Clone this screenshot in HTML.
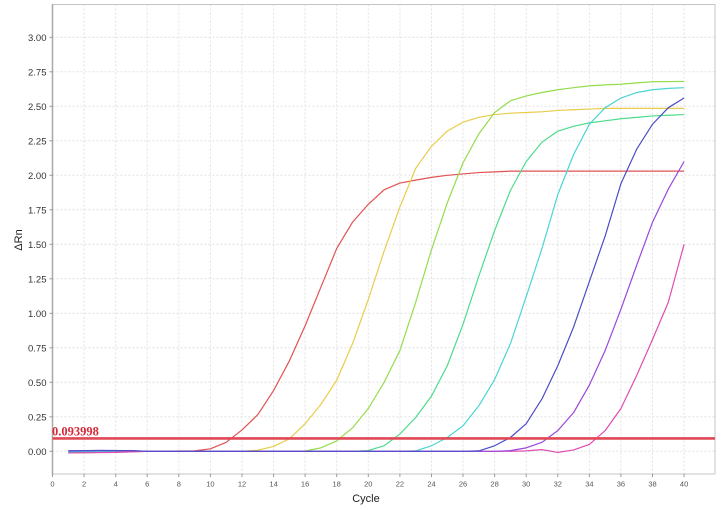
<!DOCTYPE html>
<html>
<head>
<meta charset="utf-8">
<style>
  html,body{margin:0;padding:0;background:#fff;}
  body{width:723px;height:510px;overflow:hidden;}
  svg{display:block;}
  .yt{font-family:"Liberation Sans",sans-serif;font-size:9.5px;fill:#333;text-anchor:end;}
  .xt{font-family:"Liberation Sans",sans-serif;font-size:7.5px;fill:#555;text-anchor:middle;}
  .ax{font-family:"Liberation Sans",sans-serif;font-size:11px;fill:#222;}
  .c{fill:none;stroke-width:1.2;vector-effect:non-scaling-stroke;stroke-linejoin:round;}
</style>
</head>
<body>
<svg width="723" height="510" viewBox="0 0 723 510" xmlns="http://www.w3.org/2000/svg">
  <rect x="0" y="0" width="723" height="510" fill="#fff"/>
  <!-- grid -->
  <g stroke="#e2e2e2" stroke-width="1" stroke-dasharray="2,2">
    <line x1="84.1" y1="4.5" x2="84.1" y2="474"/>
    <line x1="115.7" y1="4.5" x2="115.7" y2="474"/>
    <line x1="147.2" y1="4.5" x2="147.2" y2="474"/>
    <line x1="178.8" y1="4.5" x2="178.8" y2="474"/>
    <line x1="210.4" y1="4.5" x2="210.4" y2="474"/>
    <line x1="242.0" y1="4.5" x2="242.0" y2="474"/>
    <line x1="273.6" y1="4.5" x2="273.6" y2="474"/>
    <line x1="305.1" y1="4.5" x2="305.1" y2="474"/>
    <line x1="336.7" y1="4.5" x2="336.7" y2="474"/>
    <line x1="368.3" y1="4.5" x2="368.3" y2="474"/>
    <line x1="399.9" y1="4.5" x2="399.9" y2="474"/>
    <line x1="431.5" y1="4.5" x2="431.5" y2="474"/>
    <line x1="463.0" y1="4.5" x2="463.0" y2="474"/>
    <line x1="494.6" y1="4.5" x2="494.6" y2="474"/>
    <line x1="526.2" y1="4.5" x2="526.2" y2="474"/>
    <line x1="557.8" y1="4.5" x2="557.8" y2="474"/>
    <line x1="589.4" y1="4.5" x2="589.4" y2="474"/>
    <line x1="620.9" y1="4.5" x2="620.9" y2="474"/>
    <line x1="652.5" y1="4.5" x2="652.5" y2="474"/>
    <line x1="684.1" y1="4.5" x2="684.1" y2="474"/>
    <line x1="52.5" y1="451.3" x2="715" y2="451.3"/>
    <line x1="52.5" y1="416.8" x2="715" y2="416.8"/>
    <line x1="52.5" y1="382.3" x2="715" y2="382.3"/>
    <line x1="52.5" y1="347.8" x2="715" y2="347.8"/>
    <line x1="52.5" y1="313.3" x2="715" y2="313.3"/>
    <line x1="52.5" y1="278.8" x2="715" y2="278.8"/>
    <line x1="52.5" y1="244.3" x2="715" y2="244.3"/>
    <line x1="52.5" y1="209.8" x2="715" y2="209.8"/>
    <line x1="52.5" y1="175.3" x2="715" y2="175.3"/>
    <line x1="52.5" y1="140.8" x2="715" y2="140.8"/>
    <line x1="52.5" y1="106.3" x2="715" y2="106.3"/>
    <line x1="52.5" y1="71.8" x2="715" y2="71.8"/>
    <line x1="52.5" y1="37.3" x2="715" y2="37.3"/>
  </g>
  <!-- frame -->
  <line x1="52.5" y1="4.5" x2="715" y2="4.5" stroke="#c4c4c4" stroke-width="1"/>
  <line x1="715" y1="4.5" x2="715" y2="474" stroke="#c4c4c4" stroke-width="1"/>
  <line x1="52.5" y1="474" x2="715" y2="474" stroke="#c4c4c4" stroke-width="1"/>
  <line x1="52.5" y1="4" x2="52.5" y2="474.5" stroke="#a8a8a8" stroke-width="1.5"/>
  <!-- y ticks -->
  <g stroke="#999" stroke-width="1">
    <line x1="49.5" y1="451.3" x2="52.5" y2="451.3"/>
    <line x1="49.5" y1="416.8" x2="52.5" y2="416.8"/>
    <line x1="49.5" y1="382.3" x2="52.5" y2="382.3"/>
    <line x1="49.5" y1="347.8" x2="52.5" y2="347.8"/>
    <line x1="49.5" y1="313.3" x2="52.5" y2="313.3"/>
    <line x1="49.5" y1="278.8" x2="52.5" y2="278.8"/>
    <line x1="49.5" y1="244.3" x2="52.5" y2="244.3"/>
    <line x1="49.5" y1="209.8" x2="52.5" y2="209.8"/>
    <line x1="49.5" y1="175.3" x2="52.5" y2="175.3"/>
    <line x1="49.5" y1="140.8" x2="52.5" y2="140.8"/>
    <line x1="49.5" y1="106.3" x2="52.5" y2="106.3"/>
    <line x1="49.5" y1="71.8" x2="52.5" y2="71.8"/>
    <line x1="49.5" y1="37.3" x2="52.5" y2="37.3"/>
  </g>
  <g class="yt">
    <text x="46.5" y="454.8">0.00</text>
    <text x="46.5" y="420.3">0.25</text>
    <text x="46.5" y="385.8">0.50</text>
    <text x="46.5" y="351.3">0.75</text>
    <text x="46.5" y="316.8">1.00</text>
    <text x="46.5" y="282.3">1.25</text>
    <text x="46.5" y="247.8">1.50</text>
    <text x="46.5" y="213.3">1.75</text>
    <text x="46.5" y="178.8">2.00</text>
    <text x="46.5" y="144.3">2.25</text>
    <text x="46.5" y="109.8">2.50</text>
    <text x="46.5" y="75.3">2.75</text>
    <text x="46.5" y="40.8">3.00</text>
  </g>
  <!-- x ticks -->
  <g stroke="#999" stroke-width="1">
    <line x1="52.5" y1="474" x2="52.5" y2="477"/>
    <line x1="84.1" y1="474" x2="84.1" y2="477"/>
    <line x1="115.7" y1="474" x2="115.7" y2="477"/>
    <line x1="147.2" y1="474" x2="147.2" y2="477"/>
    <line x1="178.8" y1="474" x2="178.8" y2="477"/>
    <line x1="210.4" y1="474" x2="210.4" y2="477"/>
    <line x1="242.0" y1="474" x2="242.0" y2="477"/>
    <line x1="273.6" y1="474" x2="273.6" y2="477"/>
    <line x1="305.1" y1="474" x2="305.1" y2="477"/>
    <line x1="336.7" y1="474" x2="336.7" y2="477"/>
    <line x1="368.3" y1="474" x2="368.3" y2="477"/>
    <line x1="399.9" y1="474" x2="399.9" y2="477"/>
    <line x1="431.5" y1="474" x2="431.5" y2="477"/>
    <line x1="463.0" y1="474" x2="463.0" y2="477"/>
    <line x1="494.6" y1="474" x2="494.6" y2="477"/>
    <line x1="526.2" y1="474" x2="526.2" y2="477"/>
    <line x1="557.8" y1="474" x2="557.8" y2="477"/>
    <line x1="589.4" y1="474" x2="589.4" y2="477"/>
    <line x1="620.9" y1="474" x2="620.9" y2="477"/>
    <line x1="652.5" y1="474" x2="652.5" y2="477"/>
    <line x1="684.1" y1="474" x2="684.1" y2="477"/>
  </g>
  <g class="xt">
    <text x="52.5" y="486.5">0</text>
    <text x="84.1" y="486.5">2</text>
    <text x="115.7" y="486.5">4</text>
    <text x="147.2" y="486.5">6</text>
    <text x="178.8" y="486.5">8</text>
    <text x="210.4" y="486.5">10</text>
    <text x="242.0" y="486.5">12</text>
    <text x="273.6" y="486.5">14</text>
    <text x="305.1" y="486.5">16</text>
    <text x="336.7" y="486.5">18</text>
    <text x="368.3" y="486.5">20</text>
    <text x="399.9" y="486.5">22</text>
    <text x="431.5" y="486.5">24</text>
    <text x="463.0" y="486.5">26</text>
    <text x="494.6" y="486.5">28</text>
    <text x="526.2" y="486.5">30</text>
    <text x="557.8" y="486.5">32</text>
    <text x="589.4" y="486.5">34</text>
    <text x="620.9" y="486.5">36</text>
    <text x="652.5" y="486.5">38</text>
    <text x="684.1" y="486.5">40</text>
  </g>
  <text class="ax" x="366" y="502" text-anchor="middle">Cycle</text>
  <text class="ax" x="0" y="0" font-size="10.5" text-anchor="middle" transform="translate(22,240) rotate(-90)">ΔRn</text>

  <!-- curves in data coordinates -->
  <g transform="translate(52.5,451.3) scale(15.79,-138)">
    <polyline class="c" stroke="#e05252" points="1,-0.012 3,-0.008 6,0 9,0.003 10,0.018 11,0.065 12,0.155 13,0.265 14,0.44 15,0.655 16,0.91 17,1.19 18,1.47 19,1.66 20,1.79 21,1.895 22,1.944 23,1.965 24,1.985 25,2.0 26,2.01 27,2.02 28,2.025 29,2.03 40,2.03"/>
    <polyline class="c" stroke="#e8cc4c" points="1,-0.01 4,-0.006 6,0 12,0 13,0.008 14,0.035 15,0.09 16,0.2 17,0.34 18,0.515 19,0.78 20,1.1 21,1.45 22,1.77 23,2.05 24,2.21 25,2.32 26,2.385 27,2.42 28,2.44 29,2.45 30,2.455 31,2.46 32,2.47 33,2.475 34,2.48 35,2.485 40,2.485"/>
    <polyline class="c" stroke="#94dc4c" points="1,-0.008 4,-0.004 6,0 15,0 16,0.002 17,0.025 18,0.075 19,0.17 20,0.31 21,0.5 22,0.73 23,1.08 24,1.46 25,1.8 26,2.09 27,2.3 28,2.455 29,2.54 30,2.575 31,2.6 32,2.62 33,2.635 34,2.648 35,2.655 36,2.66 37,2.67 38,2.678 40,2.68"/>
    <polyline class="c" stroke="#4cdc8c" points="1,-0.006 4,-0.003 6,0 19,0 20,0.005 21,0.04 22,0.125 23,0.245 24,0.4 25,0.62 26,0.92 27,1.27 28,1.6 29,1.89 30,2.1 31,2.24 32,2.32 33,2.355 34,2.38 35,2.395 36,2.41 37,2.42 38,2.43 39,2.435 40,2.44"/>
    <polyline class="c" stroke="#4cd4d4" points="1,-0.004 6,0 22,0 23,0.003 24,0.04 25,0.1 26,0.185 27,0.33 28,0.52 29,0.78 30,1.12 31,1.47 32,1.86 33,2.15 34,2.37 35,2.49 36,2.56 37,2.6 38,2.62 39,2.63 40,2.635"/>
    <polyline class="c" stroke="#e04cb0" points="1,-0.012 4,-0.008 6,0 29,0 30,0.003 31,0.012 32,-0.008 33,0.01 34,0.05 35,0.15 36,0.31 37,0.55 38,0.81 39,1.08 40,1.5"/>
    <polyline class="c" stroke="#9a46dc" points="1,0.004 3,0.006 5,0.004 6,0 28,0 29,0.005 30,0.025 31,0.065 32,0.15 33,0.28 34,0.48 35,0.73 36,1.03 37,1.35 38,1.66 39,1.9 40,2.1"/>
    <polyline class="c" stroke="#4c4cc8" points="1,0.002 3,0.006 5,0.005 6,0 26,0 27,0.003 28,0.04 29,0.1 30,0.2 31,0.38 32,0.62 33,0.9 34,1.23 35,1.56 36,1.94 37,2.19 38,2.37 39,2.49 40,2.56"/>
  </g>

  <!-- threshold -->
  <line x1="52.5" y1="438.4" x2="715" y2="438.4" stroke="#e04855" stroke-width="2.6"/>
  <text x="52" y="435.6" font-family="'Liberation Serif',serif" font-weight="bold" font-size="12.5" fill="#d42a38">0.093998</text>
</svg>
</body>
</html>
